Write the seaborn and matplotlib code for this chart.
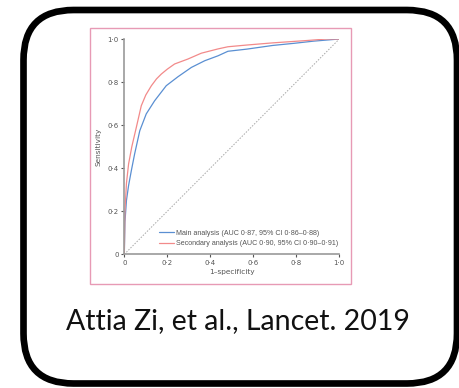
import matplotlib
matplotlib.use("Agg")
import matplotlib.pyplot as plt
import seaborn as sns
import pandas as pd
from matplotlib.patches import FancyBboxPatch, Rectangle

# ---- data ----
main_fpr = [0, 0.003, 0.01, 0.02, 0.033, 0.048, 0.072, 0.102, 0.141, 0.195, 0.25, 0.312,
            0.374, 0.436, 0.482, 0.57, 0.69, 0.79, 0.88, 1.0]
main_tpr = [0, 0.15, 0.25, 0.32, 0.39, 0.466, 0.574, 0.652, 0.713, 0.783, 0.825, 0.868,
            0.899, 0.922, 0.943, 0.953, 0.97, 0.98, 0.99, 1.0]
sec_fpr = [0, 0.003, 0.01, 0.02, 0.035, 0.056, 0.079, 0.1, 0.126, 0.15, 0.172, 0.2, 0.234,
           0.296, 0.358, 0.436, 0.482, 0.57, 0.69, 0.85, 0.94, 1.0]
sec_tpr = [0, 0.2, 0.33, 0.42, 0.5, 0.59, 0.69, 0.74, 0.783, 0.815, 0.837, 0.86, 0.884,
           0.907, 0.934, 0.954, 0.964, 0.972, 0.982, 0.993, 1.0, 1.0]
series_labels = ["Main analysis (AUC 0·87, 95% CI 0·86–0·88)",
                 "Secondary analysis (AUC 0·90, 95% CI 0·90–0·91)"]
tick_values = [0, 0.2, 0.4, 0.6, 0.8, 1.0]
tick_labels = ["0", "0·2", "0·4", "0·6", "0·8", "1·0"]
caption = "Attia Zi, et al., Lancet. 2019"

df = pd.concat([
    pd.DataFrame({"fpr": main_fpr, "tpr": main_tpr, "series": series_labels[0]}),
    pd.DataFrame({"fpr": sec_fpr, "tpr": sec_tpr, "series": series_labels[1]}),
])

sns.set_style("ticks")
plt.rcParams['font.family'] = ['DejaVu Sans']

W, H = 460, 388
fig = plt.figure(figsize=(W / 100, H / 100), dpi=100)

# background overlay axes in pixel coordinates
bg = fig.add_axes([0, 0, 1, 1])
bg.set_xlim(0, W)
bg.set_ylim(H, 0)
bg.axis("off")
bg.add_patch(FancyBboxPatch((23.5, 10), 433.5, 373.5,
                            boxstyle="round,pad=0,rounding_size=50",
                            fill=False, ec="black", lw=4.8))
bg.add_patch(Rectangle((90, 28), 261, 256, fill=False, ec="#e79ab5", lw=1.0))
bg.text(237.5, 321, caption, ha="center", va="center", fontsize=20.5,
        family=["Lato", "DejaVu Sans"], color="#111111")

# ROC axes
ax = fig.add_axes([124.3 / W, 1 - 254.3 / H, 215 / W, 215.3 / H])
ax.patch.set_alpha(0)
ax.plot([0, 1], [0, 1], ls=(0, (1.5, 1.5)), color="#a8a8a8", lw=0.7)
sns.lineplot(data=df, x="fpr", y="tpr", hue="series", sort=False, estimator=None,
             palette=["#5a8fd2", "#f28a8a"], lw=0.9, ax=ax)
ax.set_xlim(0, 1)
ax.set_ylim(0, 1)
ax.set_xticks(tick_values)
ax.set_xticklabels(tick_labels)
ax.set_yticks(tick_values)
ax.set_yticklabels(tick_labels)
ax.tick_params(labelsize=5, colors="#555555", length=2.5, width=0.8, pad=1.5)
for s in ["top", "right"]:
    ax.spines[s].set_visible(False)
for s in ["left", "bottom"]:
    ax.spines[s].set_color("#9a9a9a")
    ax.spines[s].set_linewidth(1.2)
ax.set_xlabel("1–specificity", fontsize=5.3, color="#555555", labelpad=2)
ax.set_ylabel("Sensitivity", fontsize=5.3, color="#555555", labelpad=4)
leg = ax.legend(loc="lower right", frameon=False, handlelength=2.0,
                prop={"family": ["Liberation Sans", "DejaVu Sans"], "size": 5.1},
                handletextpad=0.4, borderaxespad=0.0, labelspacing=0.45,
                labelcolor="#555555", bbox_to_anchor=(1.01, 0.02))

fig.savefig("out.png", dpi=100)
